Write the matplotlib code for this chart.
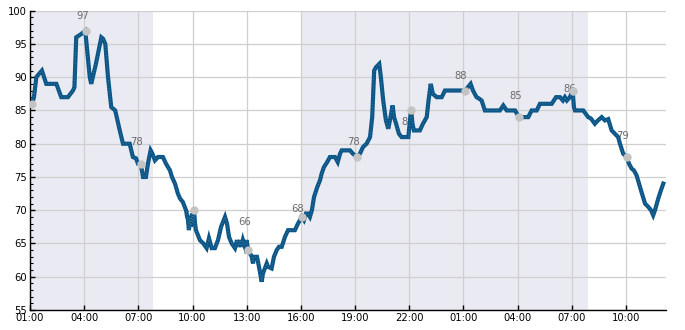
import matplotlib
matplotlib.use("Agg")
import matplotlib.pyplot as plt
from matplotlib.ticker import MultipleLocator, FixedLocator

# hours after 01:00 (day 1) and values of the traced series
hours = [0.06, 0.11, 0.22, 0.35, 0.50, 0.66, 0.78, 0.90, 1.46, 1.73, 2.10, 2.38, 2.46, 2.56,
         2.84, 3.06, 3.31, 3.39, 3.65, 3.95, 4.04, 4.17, 4.32, 4.50, 4.72, 4.97, 5.15, 5.52,
         5.70, 5.87, 5.98, 6.13, 6.26, 6.42, 6.53, 6.68, 6.78, 6.92, 7.09, 7.36, 7.53, 7.75,
         7.86, 8.03, 8.19, 8.31, 8.46, 8.64, 8.75, 8.80, 8.86, 8.91, 8.97, 9.03, 9.08, 9.14,
         9.19, 9.41, 9.60, 9.78, 9.91, 10.06, 10.24, 10.41, 10.58, 10.80, 10.91, 11.02, 11.17,
         11.35, 11.46, 11.54, 11.63, 11.71, 11.79, 11.90, 11.99, 12.09, 12.28, 12.35, 12.40,
         12.57, 12.68, 12.83, 12.90, 13.11, 13.18, 13.38, 13.51, 13.66, 13.79, 13.94, 14.12,
         14.29, 14.67, 14.84, 14.95, 15.04, 15.17, 15.28, 15.39, 15.50, 15.61, 15.73, 15.91,
         16.06, 16.15, 16.28, 16.46, 16.61, 16.89, 17.04, 17.17, 17.26, 17.72, 17.88, 18.12,
         18.27, 18.44, 18.64, 18.83, 18.95, 19.06, 19.16, 19.34, 19.43, 19.56, 19.71, 19.84,
         19.93, 20.08, 20.16, 20.30, 20.43, 20.58, 20.95, 21.08, 21.11, 21.18, 21.26, 21.59,
         21.76, 21.97, 22.07, 22.19, 22.31, 22.52, 22.80, 22.98, 23.81, 23.98, 24.09, 24.25,
         24.40, 24.53, 24.73, 24.86, 25.01, 25.19, 26.02, 26.21, 26.40, 26.86, 27.08, 27.59,
         27.78, 28.06, 28.24, 28.89, 29.13, 29.35, 29.51, 29.62, 29.73, 29.90, 30.05, 30.12,
         30.18, 30.64, 30.91, 31.06, 31.28, 31.45, 31.66, 31.84, 32.02, 32.21, 32.39, 32.57,
         32.67, 32.85, 33.04, 33.17, 33.32, 33.44, 33.59, 33.78, 33.89, 34.06, 34.24, 34.39,
         34.51, 34.61, 34.79, 34.94, 35.07]
values = [86, 86, 87, 90, 90.5, 91, 90, 89, 89, 87, 87, 88, 88.5, 96,
          96.5, 97, 90, 89, 92, 96, 95.8, 95, 90, 85.5, 85, 82, 80, 80,
          78, 77.8, 77, 77, 75, 75, 77, 79, 78.5, 77.5, 78, 78, 77, 76,
          75, 74, 72.5, 71.75, 71.25, 70, 68.5, 67, 69, 67.5, 69.5, 68, 70, 68,
          67, 65.5, 65, 64.3, 65.8, 64.3, 64.3, 65.5, 67.5, 69, 68, 66, 65,
          64.3, 65.5, 64.5, 65.5, 64.5, 65.5, 64.5, 65.5, 64, 63, 62, 63,
          63, 61.5, 59.25, 60.5, 62, 61.5, 61.25, 63, 64, 64.5, 64.5, 66,
          67, 67, 68, 68.5, 69, 68.5, 69.5, 69.5, 69, 70, 72, 73.5,
          74.5, 75.5, 76.5, 77.25, 78, 78, 77.25, 78.5, 79, 79, 78.5, 78,
          78.5, 79.5, 80, 81, 84, 91, 91.5, 92, 90, 86.5, 83.5, 82.25,
          83.5, 85.75, 84, 82.75, 81.5, 81, 81, 84.5, 85, 83, 82, 82,
          83, 84, 86.5, 89, 87.5, 87, 87, 88, 88, 88, 88, 88.5,
          89, 88, 87, 86.8, 86.5, 85, 85, 85.75, 85, 85, 84, 84,
          85, 85, 86, 86, 87, 87, 86.5, 87, 86.5, 87, 88, 85.5,
          85, 85, 84, 83.8, 83, 83.5, 84, 83.5, 83.7, 82, 81.5, 81,
          80, 78.5, 78, 77, 76.25, 76, 75.25, 73.5, 72.5, 71, 70.5, 70,
          69.25, 70, 71.75, 73, 74]

# highlighted points (every 3 h) and their annotations
marker_hours = [0.11, 3.12, 6.13, 9.08, 12.09, 15.04, 18.12, 21.11, 24.09, 27.09, 30.08, 33.05]
marker_values = [86, 97, 77, 70, 64, 69, 78, 85, 88, 84, 88, 78]
marker_labels = ["", "97", "78", "67", "66", "68", "78", "81", "88", "85", "86", "79"]

# shaded periods (hours after 01:00)
shade_starts = [0.0, 15.0]
shade_ends = [6.81, 30.88]

tick_hours = [0, 3, 6, 9, 12, 15, 18, 21, 24, 27, 30, 33]
tick_labels = ["01:00", "04:00", "07:00", "10:00", "13:00", "16:00",
               "19:00", "22:00", "01:00", "04:00", "07:00", "10:00"]

fig = plt.figure(figsize=(6.85, 3.3), dpi=100)
ax = fig.add_axes([30 / 685, 20 / 330, 636 / 685, 299.3 / 330])

for s, e in zip(shade_starts, shade_ends):
    ax.axvspan(s, e, color="#eaeaf2", zorder=0, lw=0)

ax.set_axisbelow(True)
ax.grid(True, which="major", color="#cfcfcf", lw=0.9, zorder=0.5)

ax.plot(hours, values, color="#0b5687", lw=3.0, solid_joinstyle="miter", zorder=3)
ax.plot(hours, values, color="#8fb4d3", lw=0.5, ls=(0, (1, 3)), alpha=0.7, zorder=3.1)

ax.plot(marker_hours, marker_values, "o", color="#c3c3c3", ms=6, mec="none", zorder=4)
for h, v, t in zip(marker_hours, marker_values, marker_labels):
    if t:
        ax.text(h - 0.22, float(t) + 2.2, t, ha="center", va="center",
                fontsize=7.2, color="#6b6b6b", zorder=2)

ax.set_xlim(0, 35.22)
ax.set_ylim(55, 100)
ax.xaxis.set_major_locator(FixedLocator(tick_hours))
ax.set_xticklabels(tick_labels)
ax.yaxis.set_major_locator(MultipleLocator(5))
ax.yaxis.set_minor_locator(MultipleLocator(1))

for side in ("top", "right"):
    ax.spines[side].set_visible(False)
for side in ("left", "bottom"):
    ax.spines[side].set_color("black")
    ax.spines[side].set_linewidth(1.0)

ax.tick_params(axis="both", which="major", direction="in", length=3.5, width=1,
               labelsize=7.2, colors="black", pad=2)
ax.tick_params(axis="y", which="minor", direction="in", length=2.2, width=0.8)

fig.savefig("out.png", dpi=100)
